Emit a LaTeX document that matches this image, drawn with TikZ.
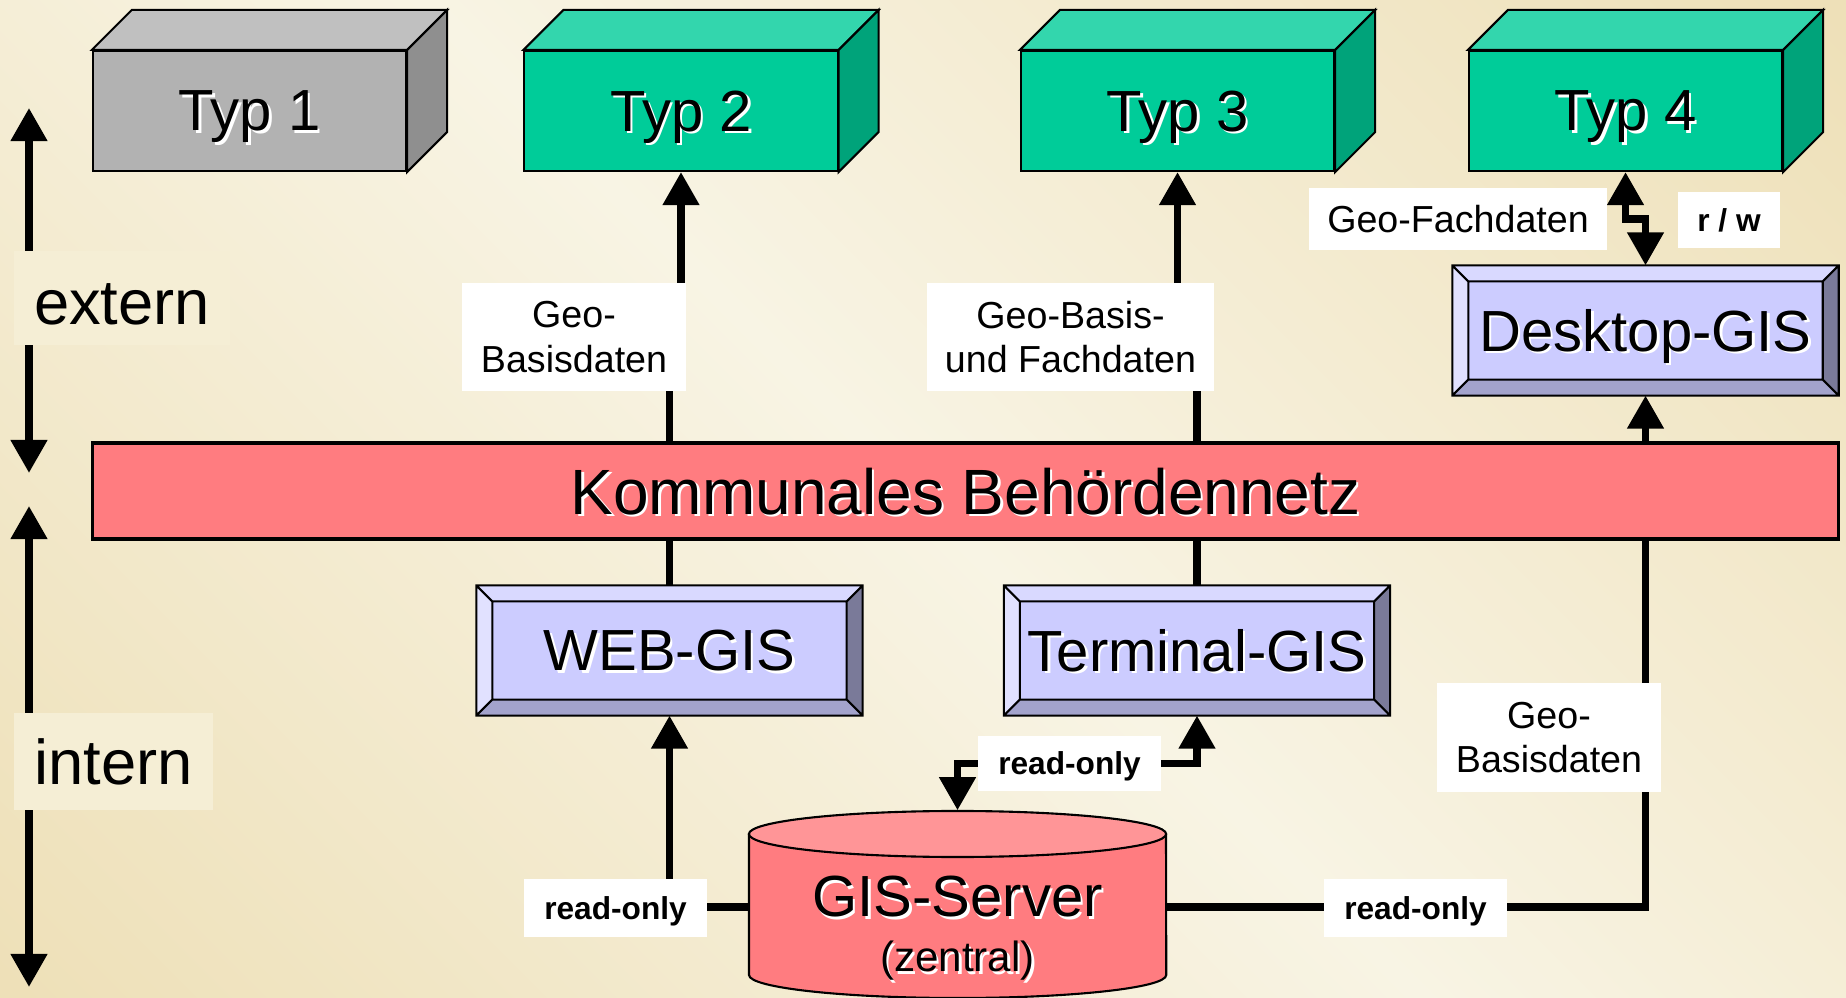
\documentclass[tikz,border=0pt]{standalone}
\usepackage{fontspec}
\setmainfont{Liberation Sans}
\usetikzlibrary{arrows.meta}

\definecolor{bghell}{HTML}{F8F4E4}
\definecolor{bgdunkel}{HTML}{EEE0B8}
\definecolor{bgbox}{HTML}{F5EED5}
\definecolor{grauF}{HTML}{B2B2B2}
\definecolor{grauT}{HTML}{C0C0C0}
\definecolor{grauS}{HTML}{8F8F8F}
\definecolor{gruenF}{HTML}{00CC99}
\definecolor{gruenT}{HTML}{33D6AD}
\definecolor{gruenS}{HTML}{00A37A}
\definecolor{lila}{HTML}{CCCCFF}
\definecolor{lilaT}{HTML}{D9D9FF}
\definecolor{lilaL}{HTML}{E1E1FF}
\definecolor{lilaB}{HTML}{A3A3CC}
\definecolor{lilaR}{HTML}{7A7A99}
\definecolor{rot}{HTML}{FF7C80}
\definecolor{rotT}{HTML}{FF9597}

\pgfdeclareverticalshading{hgrund}{100bp}{color(0bp)=(bgdunkel); color(15bp)=(bgdunkel); color(50bp)=(bghell); color(85bp)=(bgdunkel); color(100bp)=(bgdunkel)}

\newcommand{\schatten}[1]{\rlap{\kern0.7pt\raisebox{-0.7pt}{\color{white}#1}}#1}

\begin{document}
\begin{tikzpicture}[x=0.01cm,y=-0.01cm,
  quader/.style={draw=black,line width=0.6pt,minimum width=3.13cm,minimum height=1.2cm,text depth=0pt,font=\fontsize{16.5}{19}\selectfont},
  knopf/.style={draw=black,line width=0.6pt,fill=lila,minimum width=3.84cm,minimum height=1.28cm,text depth=0pt,font=\fontsize{16.5}{19}\selectfont},
  etikett/.style={fill=white,align=center,inner sep=0pt,font=\fontsize{10.7}{12.6}\selectfont},
  ro/.style={fill=white,inner sep=0pt,text depth=0pt,font=\bfseries\fontsize{9}{11}\selectfont},
  linie/.style={line width=0.075cm},
  pfeil/.style={linie,-{Triangle[width=0.35cm,length=0.33cm]}},
  doppel/.style={linie,{Triangle[width=0.35cm,length=0.33cm]}-{Triangle[width=0.35cm,length=0.33cm]}}]

\useasboundingbox (0,0) rectangle (1846,998);
\shade[shading=hgrund,shading angle=-45] (0,0) rectangle (1846,998);

% Typ 1 bis 4
\node[quader,fill=grauF] (t1) at (249.5,111) {\schatten{Typ 1}};
\node[quader,fill=gruenF] (t2) at (681,111) {\schatten{Typ 2}};
\node[quader,fill=gruenF] (t3) at (1177.5,111) {\schatten{Typ 3}};
\node[quader,fill=gruenF] (t4) at (1625.5,111) {\schatten{Typ 4}};
\foreach \n/\oben/\seite in {t1/grauT/grauS,t2/gruenT/gruenS,t3/gruenT/gruenS,t4/gruenT/gruenS}{
  \filldraw[fill=\oben,line width=0.6pt] (\n.north west) -- ++(40,-40) -- ([shift={(40,-40)}]\n.north east) -- (\n.north east) -- cycle;
  \filldraw[fill=\seite,line width=0.6pt] (\n.north east) -- ++(40,-40) -- ([shift={(40,-40)}]\n.south east) -- (\n.south east) -- cycle;
}

\node[draw=black,line width=1.1pt,fill=rot,minimum width=17.45cm,minimum height=0.96cm,text depth=0pt,font=\fontsize{18.2}{21}\selectfont] (bar) at (965.5,491) {\schatten{Kommunales Behördennetz}};

\node[knopf] (web) at (669.5,650.5) {\schatten{WEB-GIS}};
\node[knopf] (term) at (1197,650.5) {\schatten{Terminal-GIS}};
\node[knopf] (desk) at (1645.5,330.5) {\schatten{Desktop-GIS}};
\foreach \n in {web,term,desk}{
  \fill[lilaT] (\n.north west) -- (\n.north east) -- ([shift={(-16,16)}]\n.north east) -- ([shift={(16,16)}]\n.north west) -- cycle;
  \fill[lilaL] (\n.north west) -- ([shift={(16,16)}]\n.north west) -- ([shift={(16,-16)}]\n.south west) -- (\n.south west) -- cycle;
  \fill[lilaB] (\n.south west) -- ([shift={(16,-16)}]\n.south west) -- ([shift={(-16,-16)}]\n.south east) -- (\n.south east) -- cycle;
  \fill[lilaR] (\n.south east) -- ([shift={(-16,-16)}]\n.south east) -- ([shift={(-16,16)}]\n.north east) -- (\n.north east) -- cycle;
  \draw[line width=0.6pt] ([shift={(16,16)}]\n.north west) rectangle ([shift={(-16,-16)}]\n.south east)
    (\n.north west) -- ++(16,16) (\n.north east) -- ++(-16,16) (\n.south west) -- ++(16,-16) (\n.south east) -- ++(-16,-16)
    (\n.north west) rectangle (\n.south east);
}

% GIS-Server
\filldraw[fill=rot,line width=0.6pt] (749,834) -- (749,975) arc[start angle=180,end angle=360,x radius=2.085cm,y radius=0.23cm] -- (1166,834);
\filldraw[fill=rotT,line width=0.6pt] (957.5,834) ellipse[x radius=2.085cm,y radius=0.23cm];
\node[minimum width=4.17cm,minimum height=1.92cm,inner sep=0pt] (server) at (957.5,907) {};
\node[font=\fontsize{16.5}{19}\selectfont] (srvname) at (957.5,898) {\schatten{GIS-Server}};
\node[font=\fontsize{12}{14}\selectfont] (srvort) at (957.5,962) {\schatten{(zentral)}};

% Verbindungen
\draw[pfeil] (web |- bar.north) -- ++(0,-60) -| (t2.south);
\draw[pfeil] (term |- bar.north) -- ++(0,-60) -| (t3.south);
\draw[pfeil] (desk |- bar.north) -- (desk.south);
\draw[doppel] (t4.south) -- ++(0,47) -| (desk.north);
\draw[linie] (web.north) -- (web |- bar.south);
\draw[linie] (term.north) -- (term |- bar.south);
\draw[pfeil] (server.west) -| (web.south);
\draw[linie] (server.east) -| (desk |- bar.south);
\draw[doppel] (term.south) -- ++(0,48) -| (server.north);

\node[etikett,minimum width=2.24cm,minimum height=1.08cm] (l1) at (574,337) {Geo-\\Basisdaten};
\node[etikett,minimum width=2.87cm,minimum height=1.08cm] (l2) at (1070.5,337) {Geo-Basis-\\und Fachdaten};
\node[etikett,minimum width=2.98cm,minimum height=0.62cm] (l3) at (1458,219) {Geo-Fachdaten};
\node[ro,minimum width=1.02cm,minimum height=0.56cm] (l4) at (1729,220) {r / w};
\node[ro,minimum width=1.83cm,minimum height=0.58cm] (l5) at (615.5,908) {read-only};
\node[ro,minimum width=1.83cm,minimum height=0.55cm] (l6) at (1069.5,763.5) {read-only};
\node[ro,minimum width=1.83cm,minimum height=0.58cm] (l7) at (1415.5,908) {read-only};
\node[etikett,minimum width=2.24cm,minimum height=1.09cm] (l8) at (1549,737.5) {Geo-\\Basisdaten};

% extern / intern
\coordinate (a1) at (29,108);
\coordinate (a2) at (29,473);
\coordinate (a3) at (29,506);
\coordinate (a4) at (29,987);
\draw[doppel] (a1) -- (a2);
\draw[doppel] (a3) -- (a4);
\node[fill=bgbox,minimum width=2.16cm,minimum height=0.94cm,text height=15.5pt,font=\fontsize{18}{21}\selectfont] (ext) at (122,298) {extern};
\node[fill=bgbox,minimum width=1.99cm,minimum height=0.97cm,font=\fontsize{18}{21}\selectfont] (int) at (113.5,761.5) {intern};
\end{tikzpicture}
\end{document}
